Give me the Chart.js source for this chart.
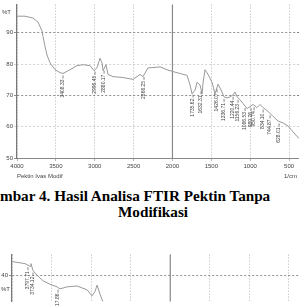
<!DOCTYPE html>
<html lang="id">
<head>
<meta charset="UTF-8">
<title>Hasil Analisa FTIR Pektin</title>
<script src="https://cdn.jsdelivr.net/npm/chart.js"></script>
<style>
  html, body { margin: 0; padding: 0; background: #fff; overflow: hidden; }
  body { width: 299px; height: 306px; position: relative; }
  canvas { position: absolute; left: 0; }
  #ftirTop { top: 0; }
  #ftirBot { top: 250px; }
  .cap {
    position: absolute;
    font-family: "Liberation Serif", "Times New Roman", serif;
    font-weight: bold;
    font-size: 15.2px;
    line-height: 15px;
    white-space: nowrap;
    color: #000;
  }
</style>
</head>
<body>
  <canvas id="ftirTop" width="299" height="180"></canvas>
  <div class="cap" style="left:0; top:188px;">mbar 4. Hasil Analisa FTIR Pektin Tanpa</div>
  <div class="cap" style="left:118px; top:204px;">Modifikasi</div>
  <canvas id="ftirBot" width="299" height="56"></canvas>

<script>
// wavenumbers (1/cm) and %T
const waveTop = [4000, 3897, 3794, 3730, 3678, 3665, 3640, 3614, 3575, 3511, 3447, 3408, 3318, 3228, 3151, 3061,
  3009, 2971, 2932, 2906, 2893, 2855, 2829, 2765, 2636, 2507, 2417, 2379, 2314, 2289, 2160, 2070, 1993, 1902,
  1812, 1774, 1748, 1709, 1684, 1645, 1619, 1606, 1581, 1542, 1491, 1452, 1413, 1375, 1336, 1298, 1259, 1220,
  1194, 1169, 1130, 1092, 1040, 1002, 963, 912, 873, 834, 770, 706, 641, 577, 512, 461, 372];
const transTop = [95.3, 95.3, 94.7, 93.4, 90.6, 88.8, 85.7, 82.9, 80.4, 78.2, 77.3, 77.0, 78.2, 79.5, 79.8, 79.5,
  77.9, 78.8, 81.9, 80.4, 77.9, 79.8, 76.7, 76.0, 75.7, 75.1, 76.7, 76.0, 78.8, 78.8, 79.1, 78.2, 77.6, 77.0,
  76.4, 73.3, 70.5, 71.7, 74.2, 73.3, 70.5, 74.2, 78.2, 76.7, 74.2, 70.5, 73.6, 71.7, 69.5, 69.2, 69.5, 70.2,
  71.1, 69.5, 68.6, 67.4, 65.8, 66.4, 67.1, 66.1, 67.1, 66.1, 64.9, 63.3, 61.8, 61.2, 60.2, 58.7, 56.2];
const peakWaveTop = [3408, 2996, 2880, 2366, 1735, 1632, 1426, 1336, 1220, 1156, 1066, 989, 950, 834, 744, 628];
const peakTextTop = ["3408.33", "2996.45", "2880.17", "2366.25", "1735.62", "1632.31", "1426.07", "1336.71",
  "1220.44", "1156.23", "1066.53", "989.26", "950.74", "834.10", "744.87", "628.01"];

// lower spectrum (only its top edge is visible)
const waveBot = [4000, 3836, 3772, 3760, 3735, 3684, 3608, 3520, 3431, 3393, 3305, 3178, 3052, 2989, 2951, 2925, 2888, 2850];
const transBot = [44.7, 44.0, 43.1, 44.0, 41.6, 40.0, 38.1, 36.9, 36.0, 35.3, 36.0, 36.3, 35.0, 32.9, 34.4, 36.6, 33.5, 30.7];
const peakWaveBot = [3798, 3735, 3418];
const peakTextBot = ["3797.71", "3734.12", "3417.86"];

const xTicks = [4000, 3500, 3000, 2500, 2000, 1500, 1000, 500];
const yTicksTop = [50, 60, 70, 80, 90];
const yTicksBot = [40];

const tickFont = { family: "Liberation Sans, Arial, sans-serif", size: 6 };

function curveAt(waves, vals, w) {
  for (let i = 0; i < waves.length - 1; i++) {
    if (w <= waves[i] && w >= waves[i + 1]) {
      const f = (waves[i] - w) / (waves[i] - waves[i + 1]);
      return vals[i] + f * (vals[i + 1] - vals[i]);
    }
  }
  return vals[vals.length - 1];
}

// peak labels + solid 2000 line + loose texts
function ftirPlugin(peakWaves, peakTexts, waves, vals, extra) {
  return {
    id: 'ftirExtras',
    beforeDatasetsDraw(chart) {
      const { ctx, chartArea, scales: { x } } = chart;
      const px = x.getPixelForValue(2000);
      ctx.save();
      ctx.strokeStyle = '#8a8a8a';
      ctx.lineWidth = 1.2;
      ctx.beginPath();
      ctx.moveTo(px, chartArea.top);
      ctx.lineTo(px, chartArea.bottom);
      ctx.stroke();
      ctx.restore();
    },
    afterDatasetsDraw(chart) {
      const { ctx, scales: { x, y } } = chart;
      ctx.save();
      ctx.fillStyle = '#444';
      ctx.strokeStyle = '#666';
      ctx.lineWidth = 0.8;
      ctx.font = '5px "Liberation Sans", Arial, sans-serif';
      peakWaves.forEach((w, i) => {
        const px = x.getPixelForValue(w);
        const py = y.getPixelForValue(curveAt(waves, vals, w));
        ctx.beginPath();
        ctx.moveTo(px, py + 2);
        ctx.lineTo(px, py + 5);
        ctx.stroke();
        ctx.save();
        ctx.translate(px, py + 6);
        ctx.rotate(-Math.PI / 2);
        ctx.textAlign = 'right';
        ctx.textBaseline = 'middle';
        ctx.fillText(peakTexts[i], 0, 0);
        ctx.restore();
      });
      ctx.restore();
    },
    afterDraw(chart) {
      const { ctx } = chart;
      ctx.save();
      ctx.fillStyle = '#444';
      ctx.font = '6px "Liberation Sans", Arial, sans-serif';
      ctx.textBaseline = 'middle';
      extra.forEach(t => ctx.fillText(t[0], t[1], t[2]));
      ctx.restore();
    }
  };
}

function makeChart(id, waves, vals, opts) {
  return new Chart(document.getElementById(id), {
    type: 'line',
    data: {
      datasets: [{
        data: waves.map((w, i) => ({ x: w, y: vals[i] })),
        borderColor: '#999',
        borderWidth: 1,
        pointRadius: 0,
        tension: 0,
        fill: false
      }]
    },
    options: {
      responsive: false,
      devicePixelRatio: 1,
      animation: false,
      layout: { padding: { top: opts.padTop, left: 0, right: 0, bottom: 0 } },
      plugins: { legend: { display: false }, tooltip: { enabled: false } },
      scales: {
        x: {
          type: 'linear',
          reverse: true,
          min: opts.xMin,
          max: 4000,
          afterBuildTicks: s => { s.ticks = xTicks.map(v => ({ value: v })); },
          afterFit: s => { s.height = opts.xHeight; },
          ticks: {
            display: opts.xLabels, autoSkip: false, maxRotation: 0, font: tickFont, color: '#444', padding: 2,
            callback: v => String(v)
          },
          grid: { color: '#a0a0a0', lineWidth: 0.8, drawTicks: opts.xLabels, tickLength: 3 },
          border: { display: opts.xLabels, color: '#888', dash: [1, 2] }
        },
        y: {
          type: 'linear',
          min: opts.yMin,
          max: opts.yMax,
          afterBuildTicks: s => { s.ticks = opts.yTicks.map(v => ({ value: v })); },
          afterFit: s => { s.width = opts.yWidth; },
          ticks: { font: tickFont, color: '#444', padding: 1, callback: v => String(v) },
          grid: {
            color: c => (c.tick && (c.tick.value === 80 || c.tick.value === 60)) ? '#c8c8c8' : '#707070',
            lineWidth: 0.8,
            tickLength: 3
          },
          border: { color: '#777', width: 1.2, dash: [2, 2] }
        }
      }
    },
    plugins: [ftirPlugin(opts.peakWaves, opts.peakTexts, waves, vals, opts.extra)]
  });
}

makeChart('ftirTop', waveTop, transTop, {
  xMin: 372, yMin: 50, yMax: 99, padTop: 0, xHeight: 22, yWidth: 17, xLabels: true,
  yTicks: yTicksTop, peakWaves: peakWaveTop, peakTexts: peakTextTop,
  extra: [['%T', 2, 12], ['Pektin Ivas Modif', 17, 176], ['1/cm', 284, 176]]
});

makeChart('ftirBot', waveBot, transBot, {
  xMin: 373, yMin: 31, yMax: 47.1, padTop: 4, xHeight: 0, yWidth: 12, xLabels: false,
  yTicks: yTicksBot, peakWaves: peakWaveBot, peakTexts: peakTextBot,
  extra: [['%T', 1, 39]]
});
</script>
</body>
</html>
